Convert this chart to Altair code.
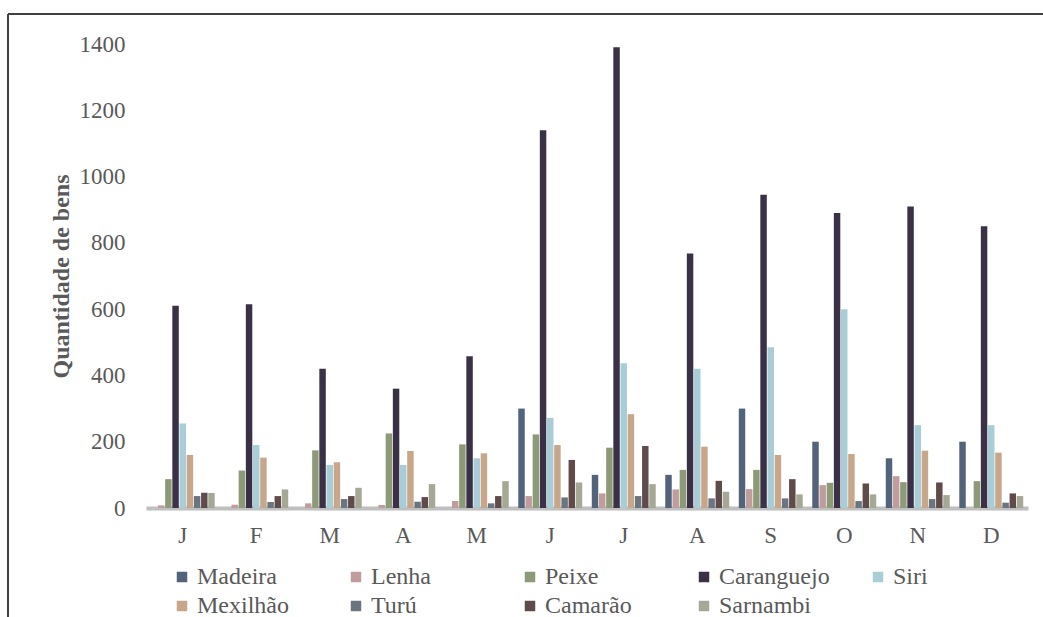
import altair as alt
import pandas as pd

# Monthly counts of goods collected, by resource
meses = ["Jan", "Fev", "Mar", "Abr", "Mai", "Jun", "Jul", "Ago", "Set", "Out", "Nov", "Dez"]
rotulos_meses = ["J", "F", "M", "A", "M", "J", "J", "A", "S", "O", "N", "D"]

recursos = ["Madeira", "Lenha", "Peixe", "Caranguejo", "Siri",
            "Mexilhão", "Turú", "Camarão", "Sarnambi"]
cores = ["#52637A", "#C19C9D", "#8D9A78", "#3A3147", "#A9CDD6",
         "#C8A68A", "#6A7580", "#604B4B", "#A4A894"]

madeira = [0, 0, 0, 0, 0, 300, 100, 100, 300, 200, 150, 200]
lenha = [8, 10, 14, 9, 21, 36, 44, 56, 57, 69, 96, 0]
peixe = [87, 113, 174, 225, 192, 222, 182, 115, 115, 76, 78, 81]
caranguejo = [610, 615, 420, 360, 458, 1140, 1390, 768, 945, 890, 910, 850]
siri = [255, 190, 130, 130, 150, 272, 437, 420, 485, 600, 250, 250]
mexilhao = [160, 152, 138, 172, 165, 190, 283, 185, 160, 163, 173, 167]
turu = [36, 18, 27, 19, 14, 32, 36, 29, 29, 21, 27, 16]
camarao = [46, 36, 36, 33, 36, 145, 187, 82, 87, 74, 77, 44]
sarnambi = [45, 56, 61, 72, 81, 77, 72, 49, 41, 41, 39, 36]

series = [madeira, lenha, peixe, caranguejo, siri, mexilhao, turu, camarao, sarnambi]

rows = []
for nome, valores in zip(recursos, series):
    for mes, v in zip(meses, valores):
        rows.append({"mes": mes, "recurso": nome, "valor": v})
df = pd.DataFrame(rows)

label_map = "{" + ",".join(f"'{m}':'{r}'" for m, r in zip(meses, rotulos_meses)) + "}"

FONT = "Liberation Serif"
TXT = "#595959"

bars = alt.Chart(df).mark_bar().encode(
    x=alt.X(
        "mes:N",
        sort=meses,
        scale=alt.Scale(paddingInner=0.13, paddingOuter=0.065),
        axis=alt.Axis(
            title=None,
            labelExpr=label_map + "[datum.label]",
            labelAngle=0,
            labelFont=FONT,
            labelFontSize=23,
            labelColor=TXT,
            labelPadding=16,
            ticks=False,
            domainColor="#BFBFBF",
            domainWidth=4,
            grid=False,
        ),
    ),
    xOffset=alt.XOffset(
        "recurso:N", sort=recursos, scale=alt.Scale(paddingInner=0.1)
    ),
    y=alt.Y(
        "valor:Q",
        scale=alt.Scale(domain=[0, 1400], nice=False),
        axis=alt.Axis(
            title="Quantidade de bens",
            titleFont=FONT,
            titleFontSize=24,
            titleFontWeight="bold",
            titleColor=TXT,
            titlePadding=6,
            values=[0, 200, 400, 600, 800, 1000, 1200, 1400],
            format="d",
            labelFont=FONT,
            labelFontSize=23,
            labelColor=TXT,
            labelPadding=21,
            ticks=False,
            domain=False,
            grid=False,
        ),
    ),
    color=alt.Color(
        "recurso:N",
        sort=recursos,
        scale=alt.Scale(domain=recursos, range=cores),
        legend=alt.Legend(
            title=None,
            orient="none",
            legendX=24,
            legendY=521,
            direction="horizontal",
            columns=5,
            gridAlign="all",
            columnPadding=36,
            rowPadding=5,
            symbolType="square",
            symbolSize=110,
            symbolStrokeWidth=0,
            symbolOpacity=1,
            labelFont=FONT,
            labelFontSize=24,
            labelColor=TXT,
            labelOffset=3,
        ),
    ),
)

# Outer frame lines (top and left edges of the figure box)
frame_left = alt.Chart(df).mark_rule(color="#404040", strokeWidth=1.5).encode(
    x=alt.value(-138), y=alt.value(-30), y2=alt.value(600)
)
frame_top = alt.Chart(df).mark_rule(color="#404040", strokeWidth=1.5).encode(
    x=alt.value(-138), x2=alt.value(920), y=alt.value(-30)
)

chart = alt.layer(bars, frame_left, frame_top).properties(
    width=882,
    height=464,
    autosize=alt.AutoSizeParams(type="none"),
    padding={"left": 146, "top": 44, "right": 15, "bottom": 109},
    background="white",
).configure_view(stroke=None)

chart.save("out.html", embed_options={"renderer": "svg", "actions": False})
